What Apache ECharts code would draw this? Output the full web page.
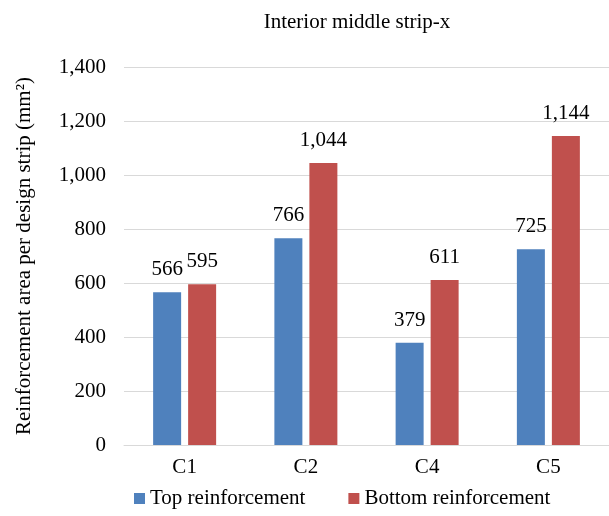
<!DOCTYPE html>
<html>
<head>
<meta charset="utf-8">
<script src="https://cdn.jsdelivr.net/npm/echarts@6/dist/echarts.min.js"></script>
<style>
  html, body { margin: 0; padding: 0; background: #fff; }
  #chart { width: 609px; height: 516px; }
</style>
</head>
<body>
<div id="chart"></div>
<script>
// Column strips and required reinforcement areas (mm²)
var categories = ['C1', 'C2', 'C4', 'C5'];
var topReinforcement = [566, 766, 379, 725];
var bottomReinforcement = [595, 1044, 611, 1144];
var seriesNames = ['Top reinforcement', 'Bottom reinforcement'];
var chartTitle = 'Interior middle strip-x';
var yAxisTitle = 'Reinforcement area per design strip (mm²)';

var FONT = '"Liberation Serif", "Times New Roman", serif';
var FS = 21;
var fmt = function (v) { return Number(v).toLocaleString('en-US'); };

var chart = echarts.init(document.getElementById('chart'), null, { renderer: 'canvas' });

var labelStyle = {
  show: true,
  position: 'top',
  distance: 12,
  color: '#000',
  fontFamily: FONT,
  fontSize: FS,
  formatter: function (p) { return fmt(p.value); }
};

chart.setOption({
  animation: false,
  backgroundColor: '#fff',
  textStyle: { fontFamily: FONT },
  title: {
    text: chartTitle,
    left: 352,
    textAlign: 'center',
    top: 7,
    textStyle: { fontFamily: FONT, fontSize: FS, fontWeight: 'normal', color: '#000' }
  },
  legend: {
    bottom: 2,
    left: 129,
    itemWidth: 11,
    itemHeight: 11,
    itemGap: 43,
    icon: 'rect',
    textStyle: { fontFamily: FONT, fontSize: FS, color: '#000' },
    data: seriesNames
  },
  grid: { left: 124, top: 67, bottom: 71, width: 488, containLabel: false },
  xAxis: {
    type: 'category',
    data: categories,
    axisLine: { show: true, lineStyle: { color: '#D9D9D9', width: 1 } },
    axisTick: { show: false },
    axisLabel: { color: '#000', fontFamily: FONT, fontSize: FS, margin: 12 }
  },
  yAxis: {
    type: 'value',
    min: 0,
    max: 1400,
    interval: 200,
    name: yAxisTitle,
    nameLocation: 'middle',
    nameGap: 89,
    nameTextStyle: { color: '#000', fontFamily: FONT, fontSize: FS },
    axisLine: { show: false },
    axisTick: { show: false },
    axisLabel: { color: '#000', fontFamily: FONT, fontSize: FS, margin: 18, formatter: fmt },
    splitLine: { lineStyle: { color: '#D9D9D9', width: 1 } }
  },
  series: [
    {
      name: seriesNames[0],
      type: 'bar',
      data: topReinforcement,
      barWidth: 28,
      barGap: '25%',
      itemStyle: { color: '#4F81BD' },
      label: labelStyle
    },
    {
      name: seriesNames[1],
      type: 'bar',
      data: bottomReinforcement,
      barWidth: 28,
      barGap: '25%',
      itemStyle: { color: '#C0504D' },
      label: labelStyle
    }
  ]
});
</script>
</body>
</html>
